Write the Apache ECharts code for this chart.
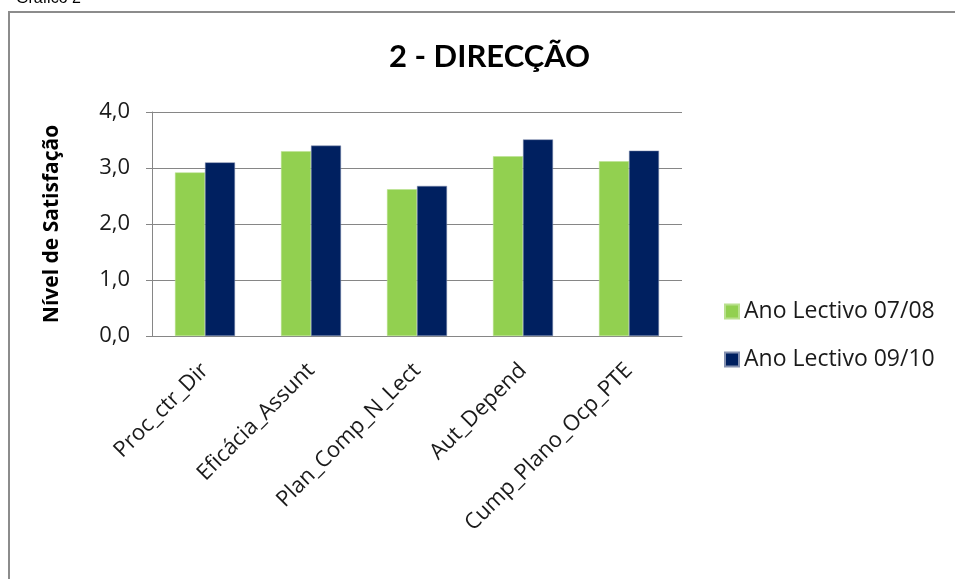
<!DOCTYPE html>
<html>
<head>
<meta charset="utf-8">
<script src="https://cdn.jsdelivr.net/npm/echarts@6/dist/echarts.min.js"></script>
<style>
  html, body { margin: 0; padding: 0; background: #fff; }
  #chart { width: 955px; height: 579px; }
</style>
</head>
<body>
<div id="chart"></div>
<script>
// data
var categories = ['Proc_ctr_Dir', 'Eficácia_Assunt', 'Plan_Comp_N_Lect', 'Aut_Depend', 'Cump_Plano_Ocp_PTE'];
var seriesNames = ['Ano Lectivo 07/08', 'Ano Lectivo 09/10'];
var values0708 = [2.92, 3.30, 2.62, 3.21, 3.12];
var values0910 = [3.10, 3.40, 2.68, 3.51, 3.31];

var font = '"Open Sans", Lato, sans-serif';
var gray = '#868686';

var chart = echarts.init(document.getElementById('chart'));
chart.setOption({
  animation: false,
  textStyle: { fontFamily: font },
  graphic: [
    {
      type: 'rect',
      shape: { x: 9, y: 12, width: 1200, height: 1000 },
      style: { fill: 'none', stroke: '#8c8c8c', lineWidth: 2 },
      silent: true
    },
    {
      type: 'text',
      left: 16, top: -9,
      style: { text: 'Gráfico 2', fill: '#000', font: '16px "Liberation Sans", Arial, sans-serif' }
    }
  ],
  title: {
    text: '2 - DIRECÇÃO',
    left: 384,
    top: 36,
    textStyle: { fontFamily: 'Lato, sans-serif', fontSize: 31, fontWeight: 'bold', color: '#000' }
  },
  legend: {
    orient: 'vertical',
    left: 719,
    top: 295,
    itemWidth: 14,
    itemHeight: 14,
    itemGap: 25,
    icon: 'rect',
    textStyle: { fontFamily: font, fontSize: 23, color: '#1a1a1a' },
    data: seriesNames
  },
  grid: { left: 152, top: 112, right: 273, bottom: 243, containLabel: false },
  xAxis: {
    type: 'category',
    data: categories,
    axisLine: { lineStyle: { color: gray, width: 1 } },
    axisTick: { show: false },
    axisLabel: {
      rotate: 45,
      margin: 31,
      interval: 0,
      fontFamily: font,
      fontSize: 22,
      color: '#1a1a1a'
    }
  },
  yAxis: {
    type: 'value',
    min: 0,
    max: 4,
    interval: 1,
    name: 'Nível de Satisfação',
    nameLocation: 'middle',
    nameGap: 89,
    nameTextStyle: { fontFamily: font, fontSize: 21, fontWeight: 'bold', color: '#000' },
    axisLine: { show: true, lineStyle: { color: gray, width: 1 } },
    axisTick: { show: true, inside: false, length: 6, lineStyle: { color: gray } },
    splitLine: { lineStyle: { color: gray, width: 1 } },
    axisLabel: {
      margin: 22,
      fontFamily: font,
      fontSize: 22,
      color: '#1a1a1a',
      formatter: function (v) { return v.toFixed(1).replace('.', ','); }
    }
  },
  series: [
    {
      name: seriesNames[0],
      type: 'bar',
      data: values0708,
      barWidth: 30,
      barGap: '0%',
      itemStyle: { color: '#92D050', borderColor: '#b9e08e', borderWidth: 0.5 }
    },
    {
      name: seriesNames[1],
      type: 'bar',
      data: values0910,
      barWidth: 30,
      barGap: '0%',
      itemStyle: { color: '#002060', borderColor: '#8591b0', borderWidth: 0.5 }
    }
  ]
});
</script>
</body>
</html>
